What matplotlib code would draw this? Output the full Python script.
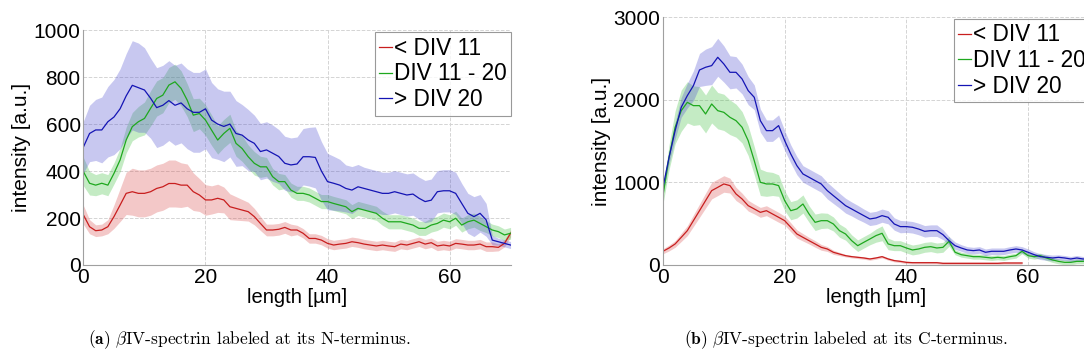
import numpy as np
import matplotlib
matplotlib.use('Agg')
from matplotlib import pyplot as plt

plt.rcParams['font.family'] = ['Liberation Sans', 'DejaVu Sans']
plt.rcParams['mathtext.fontset'] = 'cm'

## Sampling positions along the axon [um]
#
length_um = list(range(0, 71))

labels = ['< DIV 11', 'DIV 11 - 20', '> DIV 20']

## (a) N-terminus: mean profiles and band half-widths
#
n_early = [213, 163, 146, 149, 163, 206, 255, 305, 312, 305, 305, 312, 326, 333, 347, 347, 340, 340, 312, 298,
           277, 277, 284, 277, 248, 241, 234, 227, 206, 177, 149, 149, 152, 160, 149, 149, 135, 113, 113, 106,
           92, 85, 89, 92, 99, 95, 89, 85, 81, 85, 81, 78, 89, 85, 92, 99, 89, 95, 81, 85,
           81, 92, 89, 85, 85, 89, 78, 78, 75, 92, 135]
n_early_err = [40, 30, 25, 25, 30, 50, 70, 90, 100, 100, 100, 100, 100, 100, 100, 100, 95, 90, 80, 70,
               65, 60, 60, 55, 55, 50, 45, 40, 35, 30, 25, 25, 25, 25, 25, 20, 20, 20, 20, 20,
               20, 20, 20, 20, 20, 20, 20, 20, 20, 20, 20, 20, 20, 20, 20, 20, 20, 20, 20, 20,
               20, 20, 20, 20, 20, 20, 20, 20, 15, 15, 15]
n_mid = [397, 348, 340, 348, 340, 390, 447, 532, 589, 610, 624, 667, 709, 723, 766, 780, 752, 702, 638, 645,
         617, 574, 532, 560, 582, 518, 496, 461, 433, 418, 418, 376, 355, 355, 319, 305, 305, 298, 284, 270,
         270, 262, 255, 248, 227, 241, 234, 227, 220, 199, 184, 184, 184, 177, 170, 156, 156, 170, 177, 191,
         184, 199, 170, 184, 191, 177, 163, 149, 142, 128, 135]
n_mid_err = [60, 50, 45, 45, 45, 45, 50, 55, 60, 65, 70, 75, 75, 75, 75, 75, 75, 70, 70, 65,
             65, 65, 60, 60, 60, 55, 55, 50, 50, 45, 40, 35, 35, 30, 30, 30, 30, 30, 30, 30,
             30, 30, 30, 30, 30, 30, 30, 30, 30, 30, 30, 30, 30, 30, 30, 30, 30, 30, 30, 30,
             30, 30, 30, 30, 30, 30, 25, 25, 25, 25, 25]
n_late = [503, 560, 575, 575, 610, 630, 665, 720, 765, 755, 745, 710, 670, 680, 700, 680, 690, 665, 650, 650,
          665, 617, 600, 590, 600, 560, 553, 532, 518, 483, 490, 476, 462, 433, 426, 430, 461, 461, 458, 400,
          355, 348, 340, 326, 319, 333, 326, 319, 312, 305, 305, 312, 305, 298, 302, 284, 270, 276, 312, 316,
          316, 305, 262, 220, 206, 220, 192, 106, 99, 92, 85]
n_late_err = [110, 120, 130, 140, 150, 160, 170, 180, 190, 190, 180, 170, 170, 170, 170, 170, 170, 170, 170, 170,
              170, 160, 150, 150, 140, 140, 130, 130, 120, 120, 120, 120, 115, 115, 115, 115, 120, 125, 130, 125,
              120, 115, 110, 100, 100, 95, 90, 90, 90, 90, 90, 90, 90, 90, 90, 90, 90, 90, 90, 90,
              90, 90, 85, 85, 85, 80, 70, 20, 15, 15, 15]

## (b) C-terminus
#
c_early = [166, 206, 255, 335, 416, 537, 658, 780, 901, 941, 982, 962, 861, 800, 719, 679, 638, 658, 618, 578,
           537, 457, 376, 335, 295, 255, 214, 194, 154, 133, 113, 101, 93, 85, 73, 85, 101, 73, 53, 44,
           32, 28, 28, 28, 28, 28, 20, 20, 20, 20, 20, 20, 20, 20, 20, 20, 24, 24, 24, 24]
c_early_err = [30, 35, 40, 50, 60, 70, 80, 90, 100, 100, 100, 90, 80, 70, 65, 60, 60, 60, 60, 60,
               55, 55, 50, 45, 40, 40, 35, 30, 25, 20, 15, 15, 15, 15, 15, 15, 15, 15, 15, 15,
               15, 15, 15, 15, 15, 15, 15, 15, 15, 15, 15, 15, 15, 15, 15, 15, 15, 15, 15, 15]
c_mid = [840, 1305, 1669, 1870, 1971, 1931, 1931, 1830, 1951, 1870, 1850, 1790, 1749, 1669, 1507, 1264, 1002, 982, 982, 962,
         780, 658, 679, 739, 618, 517, 537, 537, 497, 416, 376, 295, 234, 275, 315, 356, 384, 255, 234, 234,
         206, 182, 194, 214, 222, 206, 214, 287, 154, 125, 113, 101, 101, 93, 85, 93, 85, 101, 113, 166,
         113, 101, 113, 85, 61, 44, 32, 32, 44, 44, 53]
c_mid_err = [100, 150, 200, 250, 250, 240, 230, 230, 230, 220, 220, 210, 200, 190, 180, 170, 160, 150, 140, 130,
             120, 110, 110, 110, 100, 100, 95, 90, 85, 80, 75, 70, 70, 70, 70, 80, 90, 70, 60, 60,
             60, 60, 60, 60, 60, 60, 60, 60, 30, 30, 30, 30, 30, 30, 30, 30, 30, 30, 30, 30,
             30, 30, 30, 30, 30, 30, 30, 30, 30, 30, 30]
c_late = [941, 1305, 1628, 1911, 2052, 2173, 2363, 2396, 2416, 2517, 2436, 2335, 2335, 2254, 2113, 2032, 1749, 1628, 1628, 1689,
          1507, 1345, 1204, 1103, 1063, 1022, 982, 901, 840, 780, 719, 679, 638, 598, 558, 570, 598, 578, 497, 465,
          465, 457, 436, 408, 416, 416, 368, 295, 234, 206, 182, 174, 182, 154, 166, 166, 166, 182, 194, 182,
          154, 125, 101, 93, 85, 93, 85, 73, 85, 73, 73]
c_late_err = [60, 80, 100, 120, 150, 180, 200, 220, 230, 230, 220, 200, 190, 180, 170, 150, 140, 130, 130, 130,
              120, 110, 110, 100, 100, 100, 100, 100, 95, 90, 90, 85, 85, 80, 80, 80, 80, 80, 75, 75,
              70, 70, 70, 70, 70, 70, 60, 50, 45, 40, 40, 40, 40, 40, 40, 40, 40, 40, 40, 40,
              40, 35, 35, 35, 35, 30, 30, 30, 30, 30, 30]

captions = [r'$\mathbf{(a)}$ $\beta$IV-spectrin labeled at its N-terminus.',
            r'$\mathbf{(b)}$ $\beta$IV-spectrin labeled at its C-terminus.']

line_colors = ['#c81e1e', '#1ea81e', '#1414b4']
band_colors = ['#d84a4a', '#3cc03c', '#4a4ad0']


def plot_profiles(ax, series, ymax, yticks):
    for (mean, err), lc, bc, lab in zip(series, line_colors, band_colors, labels):
        x = np.array(length_um[:len(mean)])
        m = np.array(mean, dtype=float)
        e = np.array(err, dtype=float)
        ax.fill_between(x, m - e, m + e, color=bc, alpha=0.3, lw=0)
        ax.plot(x, m, color=lc, lw=0.9, label=lab)

    ax.set_xlim(0, 70)
    ax.set_ylim(0, ymax)
    ax.set_xticks([0, 20, 40, 60])
    ax.set_yticks(yticks)
    ax.grid(True, ls='--', color='#d4d4d4', lw=0.7)
    ax.set_axisbelow(True)
    for side in ('top', 'right'):
        ax.spines[side].set_visible(False)
    for side in ('left', 'bottom'):
        ax.spines[side].set_color('#a0a0a0')
    ax.tick_params(length=0, labelsize=15, pad=2)
    ax.set_xlabel('length [\u00b5m]', fontsize=14.5, labelpad=1)
    ax.set_ylabel('intensity [a.u.]', fontsize=15, labelpad=2)
    ax.set_facecolor('white')


fig = plt.figure(figsize=(10.84, 3.63), dpi=100)
ax1 = fig.add_axes([0.077, 0.270, 0.394, 0.647])
ax2 = fig.add_axes([0.6116, 0.270, 0.393, 0.682])

plot_profiles(ax1, [(n_early, n_early_err), (n_mid, n_mid_err), (n_late, n_late_err)],
              1000, [0, 200, 400, 600, 800, 1000])
plot_profiles(ax2, [(c_early, c_early_err), (c_mid, c_mid_err), (c_late, c_late_err)],
              3000, [0, 1000, 2000, 3000])

for ax, anchor in ((ax1, (0.682, 0.991)), (ax2, (0.683, 0.994))):
    leg = ax.legend(loc='upper left', bbox_to_anchor=anchor, fontsize=16.3, frameon=True,
                    fancybox=False, handlelength=0.55, handletextpad=0.1, borderpad=0.2,
                    labelspacing=0.12, borderaxespad=0)
    leg.get_frame().set_edgecolor('#808080')
    leg.get_frame().set_linewidth(0.8)

fig.text(0.23, 0.063, captions[0], fontsize=12.5, family='cmr10', ha='center', va='center')
fig.text(0.78, 0.063, captions[1], fontsize=12.5, family='cmr10', ha='center', va='center')

fig.savefig('out.png', dpi=100)
